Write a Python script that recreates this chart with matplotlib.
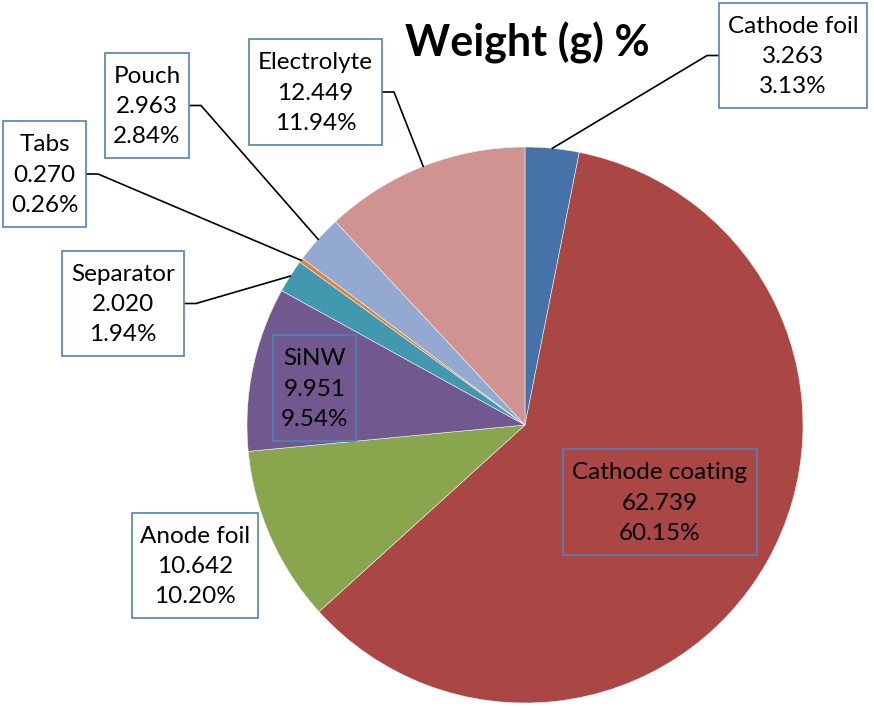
import numpy as np
import matplotlib
matplotlib.use("Agg")
import matplotlib.pyplot as plt
from matplotlib.patches import Rectangle

# ---- data ----
labels = ["Cathode foil", "Cathode coating", "Anode foil", "SiNW",
          "Separator", "Tabs", "Pouch", "Electrolyte"]
weights = [3.263, 62.739, 10.642, 9.951, 2.020, 0.270, 2.963, 12.449]
colors = ["#4572A7", "#AA4643", "#89A54E", "#71588F",
          "#4198AF", "#DB843D", "#93A9CF", "#D19392"]
title = "Weight (g) %"

# ---- layout (pixel coordinates, y measured from top) ----
W, H = 874, 708
center_px = (525, 425)
radius_px = 278
# label boxes: (x0, y0, x1, y1) in pixels from top-left
boxes = [(719, 3, 867, 108),
         (563, 449, 757, 555),
         (132, 513, 258, 618),
         (273, 335, 356, 441),
         (62, 251, 184, 356),
         (3, 121, 86, 227),
         (105, 53, 189, 158),
         (249, 39, 382, 145)]
# leader side: which box edge the leader leaves from (None = no leader)
leader_side = ["left", None, None, None, "right", "right", "right", "right"]
inside = [False, True, False, True, False, False, False, False]

plt.rcParams["font.family"] = ["Lato", "DejaVu Sans"]

fig = plt.figure(figsize=(W / 100, H / 100), dpi=100)
ax = fig.add_axes([0, 0, 1, 1])

cx, cy = center_px[0], H - center_px[1]
wedges, _ = ax.pie(weights, colors=colors, startangle=90, counterclock=False,
                   center=(cx, cy), radius=radius_px, frame=True,
                   wedgeprops=dict(linewidth=0.4, edgecolor="#f0f0f0"))
ax.set_xlim(0, W)
ax.set_ylim(0, H)
ax.set_aspect("equal")
ax.axis("off")

total = sum(weights)
for i, (lab, w) in enumerate(zip(labels, weights)):
    x0, y0, x1, y1 = boxes[i]
    fc = "none" if inside[i] else "white"
    ax.add_patch(Rectangle((x0, H - y1), x1 - x0, y1 - y0, facecolor=fc,
                           edgecolor="#4F81BD", linewidth=1.2, zorder=5))
    txt = f"{lab}\n{w:.3f}\n{w / total * 100:.2f}%"
    ax.text((x0 + x1) / 2, H - (y0 + y1) / 2 - 1, txt, ha="center", va="center",
            fontsize=17.5, linespacing=1.55, color="black", zorder=6)
    side = leader_side[i]
    if side is not None:
        wd = wedges[i]
        mid = np.deg2rad((wd.theta1 + wd.theta2) / 2)
        px = cx + radius_px * np.cos(mid)
        py = cy + radius_px * np.sin(mid)
        ymid = H - (y0 + y1) / 2
        if side == "left":
            sx, kx = x0, x0 - 12
        else:
            sx, kx = x1, x1 + 12
        ax.plot([sx, kx, px], [ymid, ymid, py], color="black", linewidth=1.2,
                zorder=4, solid_joinstyle="miter")

ax.text(527, H - 57, title, ha="center", va="baseline", fontsize=31,
        fontweight="bold", color="black")

fig.savefig("out.png", dpi=100, facecolor="white")
